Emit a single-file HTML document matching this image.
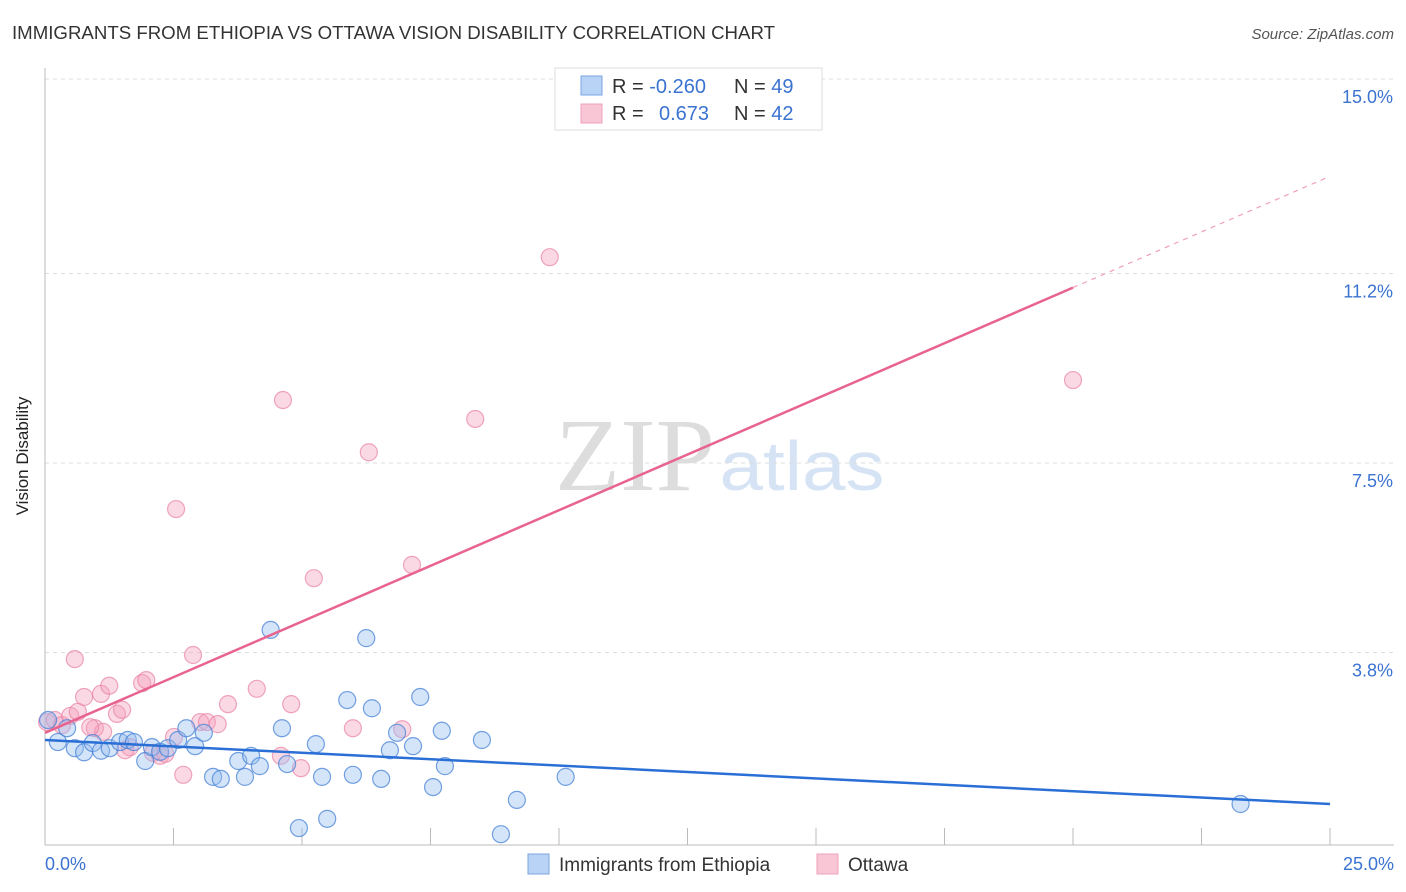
<!DOCTYPE html>
<html><head><meta charset="utf-8"><style>
body{margin:0;background:#fff;font-family:"Liberation Sans",sans-serif;}
svg{display:block}
</style></head><body>
<svg id="c" width="1406" height="892">
<text x="12" y="39" font-size="18" fill="#333" textLength="763" lengthAdjust="spacingAndGlyphs">IMMIGRANTS FROM ETHIOPIA VS OTTAWA VISION DISABILITY CORRELATION CHART</text>
<text x="1394" y="39" font-size="15" fill="#555" font-style="italic" text-anchor="end">Source: ZipAtlas.com</text>
<text x="28" y="456" font-size="17" fill="#222" text-anchor="middle" transform="rotate(-90 28 456)">Vision Disability</text>
<text x="635" y="490" font-size="104" fill="#ddd" font-family="Liberation Serif,serif" text-anchor="middle" textLength="160" lengthAdjust="spacingAndGlyphs">ZIP</text>
<text x="802" y="490" font-size="70" fill="#d5e3f5" text-anchor="middle" textLength="165" lengthAdjust="spacingAndGlyphs">atlas</text>
<g id="grid"></g><g id="axes"></g><g id="pts"></g><g id="lines"></g>
<g>
<rect x="555" y="68" width="267" height="62" fill="#fff" stroke="#ddd"/>
<rect x="581" y="76" width="21" height="19" fill="#b8d3f5" stroke="#7aa5e0"/>
<rect x="581" y="104" width="21" height="19" fill="#f9c6d6" stroke="#eea2ba"/>
<text x="612" y="93" font-size="20" fill="#333">R = <tspan fill="#3b73d1">-0.260</tspan></text>
<text x="734" y="93" font-size="20" fill="#333">N = <tspan fill="#3b73d1">49</tspan></text>
<text x="612" y="120" font-size="20" fill="#333">R = <tspan fill="#3b73d1" x="659">0.673</tspan></text>
<text x="734" y="120" font-size="20" fill="#333">N = <tspan fill="#3b73d1">42</tspan></text>
</g>
<g>
<rect x="528" y="854" width="21" height="20" fill="#b8d3f5" stroke="#7aa5e0"/>
<text x="559" y="871" font-size="19" fill="#333">Immigrants from Ethiopia</text>
<rect x="817" y="854" width="21" height="20" fill="#f9c6d6" stroke="#eea2ba"/>
<text x="848" y="871" font-size="19" fill="#333">Ottawa</text>
</g>
</svg>
<script>
const yTicks=[15.0,11.2,7.5,3.8];
const yTickLabels=["15.0%","11.2%","7.5%","3.8%"];
const xLabels=["0.0%","25.0%"];
const blueX=[0.06,0.25,0.43,0.58,0.76,0.93,1.09,1.26,1.46,1.61,1.73,1.95,2.08,2.24,2.39,2.59,2.75,2.92,3.09,3.27,3.42,3.76,3.89,4.01,4.18,4.39,4.61,4.71,4.94,5.27,5.39,5.49,5.88,5.99,6.25,6.36,6.54,6.71,6.85,7.16,7.30,7.55,7.72,7.78,8.50,8.87,9.18,10.13,23.26];
const blueY=[2.48,2.05,2.32,1.93,1.85,2.03,1.88,1.93,2.05,2.09,2.05,1.68,1.95,1.86,1.93,2.09,2.32,1.97,2.23,1.37,1.33,1.68,1.37,1.78,1.58,4.24,2.32,1.62,0.37,2.01,1.37,0.55,2.87,1.41,4.08,2.71,1.33,1.89,2.23,1.97,2.93,1.17,2.27,1.58,2.09,0.25,0.92,1.37,0.84];
const pinkX=[0.04,0.19,0.33,0.49,0.58,0.64,0.76,0.97,1.09,1.13,1.25,1.40,1.50,1.65,1.89,1.97,2.10,2.24,2.55,2.51,2.69,2.88,3.02,3.15,3.36,3.56,4.12,4.63,4.59,4.79,4.98,5.23,5.99,6.30,6.95,7.14,8.37,9.82,20.00,1.56,0.88,2.34];
const pinkY=[2.44,2.48,2.38,2.56,3.67,2.64,2.93,2.32,2.99,2.25,3.15,2.60,2.68,1.95,3.20,3.26,1.84,1.78,6.60,2.15,1.41,3.75,2.44,2.44,2.40,2.79,3.09,8.73,1.78,2.79,1.54,5.25,2.32,7.71,2.30,5.51,8.36,11.52,9.12,1.89,2.34,1.82];
const blueFit=[2.09,0.84], pinkFit=[2.23,13.1], pinkSolidEnd=20.0;
const X=v=>45+v/25*1285, Y=v=>847-v*51.2;
const NS="http://www.w3.org/2000/svg";
function mk(t,a,p){const e=document.createElementNS(NS,t);for(const k in a)e.setAttribute(k,a[k]);p.appendChild(e);return e;}
const grid=document.getElementById('grid'),axes=document.getElementById('axes'),pts=document.getElementById('pts'),lines=document.getElementById('lines');
yTicks.forEach((v,i)=>{
 const l=mk('line',{x1:45,x2:1394,y1:Y(v),y2:Y(v),stroke:'#ddd','stroke-dasharray':'4,4'},grid);
 
 
 const t=mk('text',{x:1393,y:Y(v)+24,'font-size':18,fill:'#3b73d1','text-anchor':'end'},grid);
 t.textContent=yTickLabels[i];
 
 
});
mk('line',{x1:45,x2:45,y1:68,y2:845,stroke:'#bbb'},axes);
mk('line',{x1:45,x2:1394,y1:845,y2:845,stroke:'#bbb'},axes);
for(let i=1;i<=10;i++){const tk=mk('line',{x1:X(i*2.5),x2:X(i*2.5),y1:828,y2:845,stroke:'#bbb'},axes);
 
 }
[[0,45,'start'],[1,1394,'end']].forEach(([i,x,a])=>{const t=mk('text',{x:x,y:870,'font-size':18,fill:'#3b73d1','text-anchor':a},axes);t.textContent=xLabels[i];
 
 });
pinkX.forEach((v,i)=>{const c=mk('circle',{cx:X(v),cy:Y(pinkY[i]),r:8.5,fill:'rgba(245,160,188,0.4)',stroke:'rgba(232,130,165,0.7)','stroke-width':1.2},pts);
 
 });
blueX.forEach((v,i)=>{const c=mk('circle',{cx:X(v),cy:Y(blueY[i]),r:8.5,fill:'rgba(150,190,240,0.4)',stroke:'rgba(70,130,215,0.75)','stroke-width':1.2},pts);
 
 });
const pAt=x=>pinkFit[0]+(pinkFit[1]-pinkFit[0])*x/25;
const bl=mk('line',{x1:X(0),y1:Y(blueFit[0]),x2:X(25),y2:Y(blueFit[1]),stroke:'#2a6fd6','stroke-width':2.5},lines);


const pl=mk('line',{x1:X(0),y1:Y(pAt(0)),x2:X(pinkSolidEnd),y2:Y(pAt(pinkSolidEnd)),stroke:'#e8648f','stroke-width':2.5},lines);


const pd=mk('line',{x1:X(pinkSolidEnd),y1:Y(pAt(pinkSolidEnd)),x2:X(25),y2:Y(pAt(25)),stroke:'#f0a0b8','stroke-width':1.2,'stroke-dasharray':'5,5'},lines);


</script>
</body></html>
